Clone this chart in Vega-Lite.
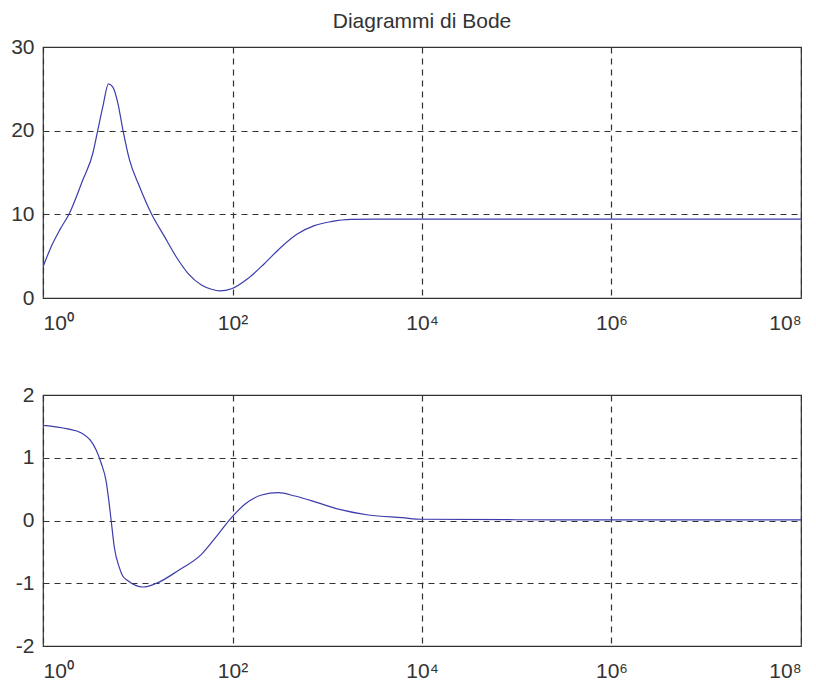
{
  "$schema": "https://vega.github.io/schema/vega-lite/v6.json",
  "background": "white",
  "padding": {"left": 5, "top": 10, "right": 0, "bottom": 0},
  "datasets": {
    "mag": [
      {"w": 1, "v": 3.7}, {"w": 1.216, "v": 6.1}, {"w": 1.514, "v": 8.2}, {"w": 1.897, "v": 10.1},
      {"w": 2.63, "v": 14.1}, {"w": 3.357, "v": 17.3}, {"w": 3.793, "v": 20.1}, {"w": 4.285, "v": 22.9},
      {"w": 4.909, "v": 25.6}, {"w": 5.458, "v": 25.2}, {"w": 6.166, "v": 23.3}, {"w": 6.966, "v": 20.1},
      {"w": 8.185, "v": 16.5}, {"w": 10.45, "v": 13.3}, {"w": 13.9, "v": 10.1}, {"w": 19.23, "v": 7.3},
      {"w": 25.53, "v": 4.9}, {"w": 33.88, "v": 2.95}, {"w": 46.99, "v": 1.55}, {"w": 59.98, "v": 1.04},
      {"w": 73.45, "v": 0.84}, {"w": 97.7, "v": 1.1}, {"w": 144.5, "v": 2.3}, {"w": 216.8, "v": 4.1},
      {"w": 325.1, "v": 6.07}, {"w": 487.5, "v": 7.67}, {"w": 731.1, "v": 8.65}, {"w": 1096, "v": 9.13},
      {"w": 1778, "v": 9.4}, {"w": 3162, "v": 9.42}, {"w": 10000, "v": 9.42}, {"w": 100000, "v": 9.42},
      {"w": 1000000, "v": 9.42}, {"w": 10000000, "v": 9.42}, {"w": 100000000, "v": 9.42}
    ],
    "phase": [
      {"w": 1, "v": 1.517}, {"w": 1.82, "v": 1.46}, {"w": 2.512, "v": 1.4}, {"w": 3.16, "v": 1.28},
      {"w": 3.65, "v": 1.12}, {"w": 4.1, "v": 0.92}, {"w": 4.645, "v": 0.62}, {"w": 4.909, "v": 0.36},
      {"w": 5.248, "v": -0.008}, {"w": 5.662, "v": -0.43}, {"w": 6.397, "v": -0.75}, {"w": 6.934, "v": -0.885},
      {"w": 7.87, "v": -0.96}, {"w": 11.35, "v": -1.06}, {"w": 16.33, "v": -0.99}, {"w": 26.61, "v": -0.8},
      {"w": 46.99, "v": -0.54}, {"w": 70.47, "v": -0.22}, {"w": 97.5, "v": 0.045}, {"w": 134.9, "v": 0.258},
      {"w": 202.8, "v": 0.406}, {"w": 304.1, "v": 0.443}, {"w": 457.1, "v": 0.39}, {"w": 805.4, "v": 0.28},
      {"w": 1312, "v": 0.18}, {"w": 2723, "v": 0.088}, {"w": 6166, "v": 0.045}, {"w": 10000, "v": 0.02},
      {"w": 100000, "v": 0.012}, {"w": 1000000, "v": 0.01}, {"w": 100000000, "v": 0.01}
    ]
  },
  "config": {
    "font": "Liberation Sans",
    "view": {"stroke": "#333333", "strokeWidth": 1.2},
    "axis": {
      "grid": true,
      "gridColor": "#333333",
      "gridDash": [6, 5],
      "gridOpacity": 1,
      "gridWidth": 1.2,
      "ticks": false,
      "domain": false,
      "labelFont": "Liberation Sans",
      "labelFontSize": 21,
      "labelColor": "#333333",
      "title": null
    },
    "axisY": {"labelPadding": 9, "minExtent": 37, "maxExtent": 37},
    "axisX": {"labelPadding": 14, "minExtent": 45, "maxExtent": 45},
    "title": {"font": "Liberation Sans", "fontSize": 21, "fontWeight": "normal", "color": "#333333", "offset": 4}
  },
  "spacing": 39,
  "vconcat": [
    {
      "title": {"text": "Diagrammi di Bode", "anchor": "middle"},
      "width": 758,
      "height": 251,
      "data": {"name": "mag"},
      "mark": {"type": "line", "color": "#3c3cac", "strokeWidth": 1.2, "clip": true, "interpolate": "monotone"},
      "encoding": {
        "x": {"field": "w", "type": "quantitative",
              "scale": {"type": "log", "domain": [1, 100000000], "nice": false},
              "axis": {"values": [1, 100, 10000, 1000000, 100000000],
                       "labelExpr": "'10' + ['⁰','¹','²','³','⁴','⁵','⁶','⁷','⁸'][round(log(datum.value)/LN10)]"}},
        "y": {"field": "v", "type": "quantitative",
              "scale": {"domain": [0, 30], "nice": false, "zero": false},
              "axis": {"values": [0, 10, 20, 30]}}
      }
    },
    {
      "width": 758,
      "height": 251,
      "data": {"name": "phase"},
      "mark": {"type": "line", "color": "#3c3cac", "strokeWidth": 1.2, "clip": true, "interpolate": "monotone"},
      "encoding": {
        "x": {"field": "w", "type": "quantitative",
              "scale": {"type": "log", "domain": [1, 100000000], "nice": false},
              "axis": {"values": [1, 100, 10000, 1000000, 100000000],
                       "labelExpr": "'10' + ['⁰','¹','²','³','⁴','⁵','⁶','⁷','⁸'][round(log(datum.value)/LN10)]"}},
        "y": {"field": "v", "type": "quantitative",
              "scale": {"domain": [-2, 2], "nice": false, "zero": false},
              "axis": {"values": [-2, -1, 0, 1, 2],
                       "labelExpr": "datum.value < 0 ? '-' + abs(datum.value) : '' + datum.value"}}
      }
    }
  ]
}
